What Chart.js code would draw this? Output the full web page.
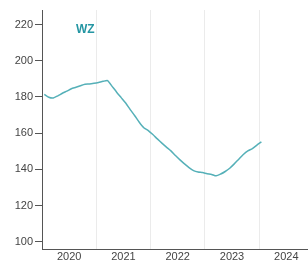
<!DOCTYPE html>
<html><head><meta charset="utf-8">
<script src="https://cdn.jsdelivr.net/npm/chart.js@4/dist/chart.umd.min.js"></script>
<style>html,body{margin:0;padding:0;background:#fff;overflow:hidden}#wrap{position:relative;width:308px;height:262px}</style>
</head><body><div id="wrap"><canvas id="c" width="308" height="262"></canvas></div>
<script>
const seriesName = 'WZ';
const startYear = 2020;
// monthly values from Jan 2020 to Jan 2024
const values = [
  181.4, 179.8, 179.4, 180.6, 182.0, 183.2, 184.5, 185.3, 186.2, 187.0, 187.1, 187.5,
  188.0, 188.6, 189.0, 185.8, 182.6, 179.6, 176.6, 173.0, 169.6, 166.0, 163.0, 161.4,
  159.2, 156.8, 154.5, 152.3, 150.2, 147.6, 145.2, 143.0, 141.0, 139.3, 138.5, 138.2,
  137.6, 137.2, 136.4, 137.4, 138.8, 140.6, 143.0, 145.6, 148.2, 150.2, 151.4, 153.4,
  155.2
];
const yearLabels = ['2020', '2021', '2022', '2023', '2024'];
const yTicks = [100, 120, 140, 160, 180, 200, 220];

const points = values.map((v, i) => ({ x: startYear + i / 12 + 1 / 24, y: v }));

const titlePlugin = {
  id: 'seriesTitle',
  afterDraw(chart) {
    const { ctx, chartArea } = chart;
    ctx.save();
    ctx.font = 'bold 12px "Liberation Sans", Arial, sans-serif';
    ctx.fillStyle = '#2596a3';
    ctx.textBaseline = 'alphabetic';
    ctx.fillText(seriesName, chartArea.left + 34, chartArea.top + 23);
    ctx.restore();
  }
};

new Chart(document.getElementById('c'), {
  type: 'line',
  data: {
    datasets: [{
      data: points,
      borderColor: '#55b0b8',
      borderWidth: 1.5,
      pointRadius: 0,
      tension: 0.2,
      fill: false
    }]
  },
  options: {
    responsive: false,
    animation: false,
    devicePixelRatio: 1,
    layout: { padding: { top: 10, left: 0, right: 0, bottom: 0 } },
    plugins: { legend: { display: false }, tooltip: { enabled: false } },
    scales: {
      x: {
        type: 'linear',
        min: startYear,
        max: startYear + 4.9,
        afterBuildTicks: s => { s.ticks = yearLabels.map(y => ({ value: +y + 0.5 })); },
        afterFit: s => { s.height = 13; },
        ticks: {
          autoSkip: false, maxRotation: 0, padding: 1,
          color: '#444',
          font: { family: '"Liberation Sans", Arial, sans-serif', size: 11 },
          callback: v => String(Math.floor(v))
        },
        grid: { offset: true, color: '#ebebeb', drawTicks: false, lineWidth: 1 },
        border: { color: '#555', width: 1 }
      },
      y: {
        min: 96,
        max: 228,
        afterBuildTicks: s => { s.ticks = yTicks.map(v => ({ value: v })); },
        afterFit: s => { s.width = 42; },
        ticks: {
          padding: 2,
          color: '#444',
          font: { family: '"Liberation Sans", Arial, sans-serif', size: 11 }
        },
        grid: { drawOnChartArea: false, drawTicks: true, tickLength: 7, color: '#555' },
        border: { color: '#555', width: 1 }
      }
    }
  },
  plugins: [titlePlugin]
});
</script>
</body></html>
